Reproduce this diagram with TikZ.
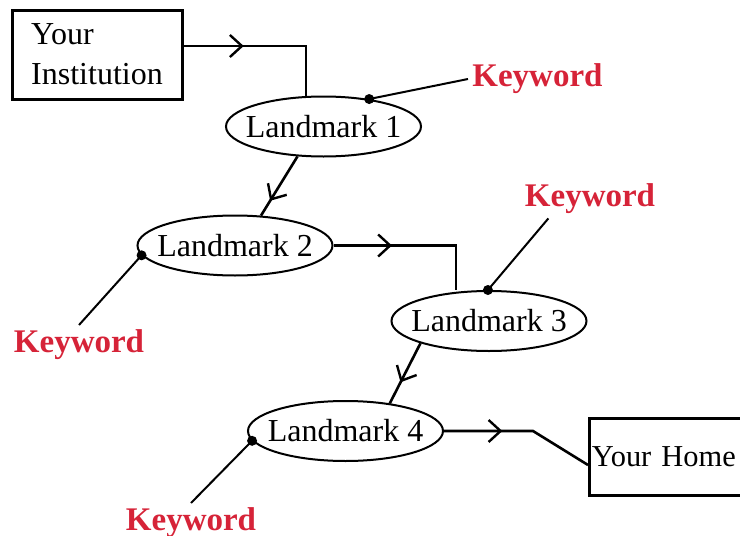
\documentclass[tikz,border=0pt]{standalone}
\usepackage{fontspec}
\setmainfont{Liberation Serif}
\usepackage{xcolor}
\usetikzlibrary{arrows.meta,positioning,calc,shapes.geometric,decorations.markings}
\definecolor{kwred}{RGB}{214,35,56}

\begin{document}
\begin{tikzpicture}[x=0.5pt, y=-0.5pt,
  every node/.style={font=\fontsize{16}{20}\selectfont},
  endbox/.style={draw, line width=1.5pt, align=left},
  land/.style={draw, ellipse, line width=1pt, minimum width=97.5pt, minimum height=30pt,
               inner xsep=-6pt, inner ysep=0pt},
  kw/.style={text=kwred, font=\fontsize{16.5}{20}\selectfont\bfseries, inner sep=2pt},
  link/.style={line width=1.3pt},
  midarr/.style={postaction={decorate}, decoration={markings, mark=at position #1 with
                 {\arrow{Straight Barb[length=6pt,width=11pt,line width=1.2pt]}}}},
  pin/.style={line width=1pt},
]
  \useasboundingbox (0,0) rectangle (740,536);

  % Start and end
  \node[endbox, minimum width=85pt, minimum height=44.5pt] (inst) at (97,54.5)
    {Your\\Institution};
  \node[endbox, anchor=west, minimum height=38.5pt, text width=84pt, inner xsep=1.2pt,
        font=\fontsize{15.2}{20}\selectfont] (home) at (588,456.5) {Your Home};

  % Landmarks along the way
  \node[land] (lm1) at (323.5,126.5) {Landmark 1};
  \node[land] (lm2) at (235,245.5)   {Landmark 2};
  \node[land] (lm3) at (489,321)     {Landmark 3};
  \node[land] (lm4) at (345.5,431)   {Landmark 4};

  % Keywords
  \node[kw, anchor=west]  (kw1) at (468,79)  {Keyword};
  \node[kw, anchor=north] (kw2) at (79,325)  {Keyword};
  \node[kw]               (kw3) at (590,199) {Keyword};
  \node[kw, anchor=north] (kw4) at (191,503) {Keyword};

  % Route
  \draw[link, midarr=0.35] ([yshift=4.25pt]inst.east) -| ([xshift=-8.75pt]lm1.north);
  \draw[link, midarr=0.75] (lm1.229) -- (lm2.49);
  \draw[link, midarr=0.35] (lm2.east) -| ([xshift=-16.5pt]lm3.north);
  \draw[link, midarr=0.65] (lm3.198) -- (lm4.32);
  \draw[link, midarr=0.38] (lm4.east) -- ++(89,0) -- ([yshift=-4.25pt]home.west);

  % Keyword pins
  \draw[pin] (lm1.31) -- (kw1.west);
  \draw[pin] (lm2.186) -- (kw2.north);
  \draw[pin] (lm3.92) -- (kw3.205);
  \draw[pin] (lm4.186) -- (kw4.north);
  \fill (lm1.31) circle (2.5pt) (lm2.186) circle (2.5pt)
        (lm3.92) circle (2.5pt) (lm4.186) circle (2.5pt);
\end{tikzpicture}
\end{document}
